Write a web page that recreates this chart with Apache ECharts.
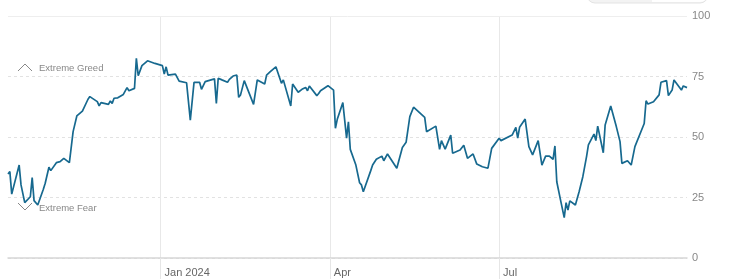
<!DOCTYPE html>
<html>
<head>
<meta charset="utf-8">
<script src="https://cdn.jsdelivr.net/npm/echarts@6/dist/echarts.min.js"></script>
<style>
html,body{margin:0;padding:0;background:#fff;}
#chart{width:740px;height:279px;}
</style>
</head>
<body>
<div id="chart"></div>
<script>
// Dates of line vertices and index values
var dates = [
'2023-10-11','2023-10-12','2023-10-13','2023-10-17','2023-10-18','2023-10-19','2023-10-20','2023-10-23','2023-10-24','2023-10-25',
'2023-10-27','2023-10-30','2023-10-31','2023-11-02','2023-11-03','2023-11-06','2023-11-08','2023-11-10','2023-11-13','2023-11-15',
'2023-11-17','2023-11-20','2023-11-21','2023-11-23','2023-11-24','2023-11-28','2023-11-29','2023-11-30','2023-12-04','2023-12-05',
'2023-12-06','2023-12-07','2023-12-09','2023-12-12','2023-12-14','2023-12-15','2023-12-18','2023-12-19','2023-12-20','2023-12-22',
'2023-12-25','2023-12-29','2024-01-02','2024-01-03','2024-01-04','2024-01-05','2024-01-09','2024-01-11','2024-01-15','2024-01-16',
'2024-01-17','2024-01-19','2024-01-22','2024-01-23','2024-01-25','2024-01-26','2024-01-30','2024-01-31','2024-02-01','2024-02-03',
'2024-02-06','2024-02-07','2024-02-09','2024-02-11','2024-02-12','2024-02-13','2024-02-15','2024-02-16','2024-02-20','2024-02-21',
'2024-02-22','2024-02-26','2024-02-27','2024-02-29','2024-03-01','2024-03-03','2024-03-06','2024-03-07','2024-03-11','2024-03-12',
'2024-03-15','2024-03-17','2024-03-19','2024-03-20','2024-03-21','2024-03-25','2024-03-26','2024-03-27','2024-03-28','2024-03-31',
'2024-04-01','2024-04-03','2024-04-04','2024-04-05','2024-04-08','2024-04-10','2024-04-11','2024-04-12','2024-04-15','2024-04-17',
'2024-04-18','2024-04-19','2024-04-23','2024-04-24','2024-04-26','2024-04-29','2024-04-30','2024-05-02','2024-05-07','2024-05-08',
'2024-05-10','2024-05-12','2024-05-14','2024-05-16','2024-05-22','2024-05-23','2024-05-24','2024-05-28','2024-05-30','2024-05-31',
'2024-06-02','2024-06-05','2024-06-06','2024-06-10','2024-06-11','2024-06-12','2024-06-14','2024-06-17','2024-06-19','2024-06-22',
'2024-06-25','2024-06-27','2024-06-28','2024-07-01','2024-07-02','2024-07-08','2024-07-09','2024-07-10','2024-07-11','2024-07-12',
'2024-07-15','2024-07-16','2024-07-17','2024-07-18','2024-07-19','2024-07-22','2024-07-24','2024-07-25','2024-07-26','2024-07-28',
'2024-07-30','2024-07-31','2024-08-01','2024-08-03','2024-08-05','2024-08-06','2024-08-07','2024-08-08','2024-08-11','2024-08-13',
'2024-08-15','2024-08-17','2024-08-18','2024-08-19','2024-08-21','2024-08-22','2024-08-23','2024-08-26','2024-08-27','2024-08-28',
'2024-08-30','2024-09-02','2024-09-04','2024-09-05','2024-09-08','2024-09-09','2024-09-10','2024-09-11','2024-09-12','2024-09-17',
'2024-09-18','2024-09-19','2024-09-22','2024-09-25','2024-09-26','2024-09-29','2024-09-30','2024-10-02','2024-10-03','2024-10-07',
'2024-10-08','2024-10-10'
];
var values = [
34.7,35.7,26.4,38.4,30.2,29.5,22.9,25.3,33.2,23.7,
21.9,28.4,30.9,37.5,36.1,39.4,39.8,41.2,39.4,52.2,
58.7,60.7,61.0,65.6,66.7,64.6,62.9,64.2,63.5,64.9,
63.9,66.0,66.2,67.6,70.4,69.1,70.1,82.5,75.3,79.5,
81.5,80.4,79.5,76.0,79.0,75.6,76.0,73.1,72.4,72.2,
57.0,72.6,72.6,69.7,72.9,73.6,74.0,63.9,74.3,73.6,
72.6,73.8,75.2,75.6,66.4,67.4,73.3,72.9,63.5,63.2,
73.6,71.9,75.6,77.0,76.6,79.0,72.2,73.6,62.8,71.9,
68.5,69.7,70.5,69.1,71.1,67.1,68.0,69.1,68.6,71.2,
70.8,69.4,53.6,57.3,64.2,49.5,56.3,44.9,38.4,31.1,
30.2,27.4,36.1,38.4,40.8,42.1,40.2,43.0,37.1,37.5,
45.7,47.8,58.4,62.3,58.1,52.2,51.5,54.5,44.9,48.5,
45.0,50.8,43.3,44.6,44.6,46.6,41.2,43.0,38.8,37.7,
37.1,45.3,44.6,49.5,48.5,50.8,50.5,54.0,49.5,54.0,
57.4,56.7,46.0,45.7,42.6,48.5,38.4,38.7,42.1,42.1,
40.8,46.3,31.5,24.0,16.7,22.9,19.8,23.6,21.9,27.4,
33.6,41.9,46.7,47.1,51.2,48.5,54.5,43.5,55.0,55.6,
62.8,54.3,48.1,39.1,40.2,40.8,38.4,38.4,46.0,55.6,
65.0,63.6,64.6,67.4,72.6,73.3,67.1,69.4,73.6,69.4,
71.1,70.4
];
var tickDates = ['2024-01-01','2024-04-01','2024-07-01'];
var tickLabels = ['Jan 2024','Apr','Jul'];
var yTicks = [0,25,50,75,100];

// daily category axis from first to last date
function pad(n){return (n<10?'0':'')+n;}
function fmt(d){return d.getUTCFullYear()+'-'+pad(d.getUTCMonth()+1)+'-'+pad(d.getUTCDate());}
var allDays = [];
var d0 = new Date(dates[0]+'T00:00:00Z');
var d1 = new Date(dates[dates.length-1]+'T00:00:00Z');
for (var t = d0.getTime(); t <= d1.getTime(); t += 86400000) allDays.push(fmt(new Date(t)));
var lookup = {};
dates.forEach(function(dd,i){lookup[dd]=values[i];});
var seriesData = allDays.map(function(dd){return lookup.hasOwnProperty(dd)?lookup[dd]:null;});
function isTick(idx, val){return tickDates.indexOf(val) >= 0;}

var chart = echarts.init(document.getElementById('chart'), null, {renderer:'canvas'});
var FONT = '"Liberation Sans", Arial, sans-serif';
chart.setOption({
  animation:false,
  backgroundColor:'#ffffff',
  grid:{left:8,right:53,top:16,bottom:21,containLabel:false},
  xAxis:{
    type:'category',
    data:allDays,
    boundaryGap:false,
    axisLine:{show:true,lineStyle:{color:'#d6d6d6',width:1.5}},
    axisTick:{show:true,interval:isTick,length:21,lineStyle:{color:'#e6e6e6',width:1}},
    axisLabel:{
      show:true,interval:isTick,align:'left',margin:9,padding:[0,0,0,4],
      color:'#666',fontSize:11,fontFamily:FONT,
      formatter:function(v){var i=tickDates.indexOf(v);return i>=0?tickLabels[i]:'';}
    },
    splitLine:{show:true,interval:isTick,lineStyle:{color:'#e8e8e8',width:1,type:'solid'}}
  },
  yAxis:{
    type:'value',position:'right',min:0,max:100,interval:25,
    axisLine:{show:false},axisTick:{show:false},
    axisLabel:{margin:5,color:'#888',fontSize:11,fontFamily:FONT,align:'left'},
    splitLine:{show:true,lineStyle:{color:'#e2e2e2',width:1,type:[3,3]}}
  },
  series:[{
    type:'line',
    data:seriesData,
    connectNulls:true,
    showSymbol:false,
    symbol:'none',
    lineStyle:{color:'#17698f',width:1.7},
    itemStyle:{color:'#17698f'},
    markLine:{
      silent:true,symbol:['none','none'],label:{show:false},
      lineStyle:{color:'#eeeeee',width:1,type:'solid'},
      data:[{yAxis:100}]
    },
    z:5
  }],
  graphic:[
    {type:'rect',shape:{x:587,y:-20,width:121,height:23,r:8},style:{fill:'#f3f3f3',stroke:'#e3e3e3',lineWidth:1},silent:true},
    {type:'rect',shape:{x:652,y:-20,width:56,height:22,r:[0,8,8,0]},style:{fill:'#ffffff'},silent:true},
    {type:'polyline',shape:{points:[[18,71],[25,64],[32,71]]},style:{stroke:'#888',lineWidth:1,fill:null},silent:true},
    {type:'text',left:39,top:63,style:{text:'Extreme Greed',fill:'#888',font:'9.5px '+FONT},silent:true},
    {type:'polyline',shape:{points:[[18,203],[25,210],[32,203]]},style:{stroke:'#888',lineWidth:1,fill:null},silent:true},
    {type:'text',left:39,top:203,style:{text:'Extreme Fear',fill:'#888',font:'9.5px '+FONT},silent:true}
  ]
});
</script>
</body>
</html>
